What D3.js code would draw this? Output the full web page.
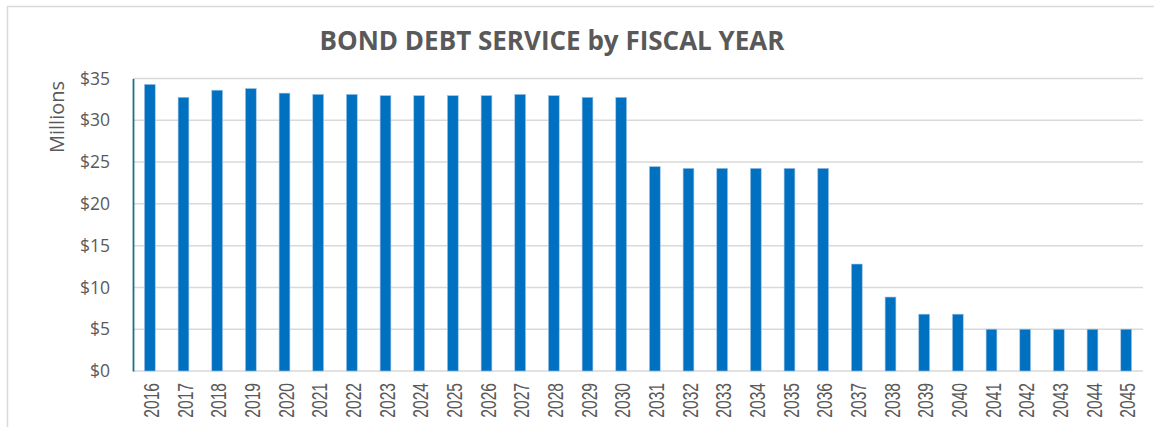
<!DOCTYPE html>
<html>
<head>
<meta charset="utf-8">
<script src="https://cdn.jsdelivr.net/npm/d3@7"></script>
<style>
  body { margin: 0; background: #fff; }
  svg { display: block; }
</style>
</head>
<body>
<div id="chart"></div>
<script>
// fiscal years and debt service (millions of dollars)
var years = ["2016", "2017", "2018", "2019", "2020", "2021", "2022", "2023", "2024", "2025",
             "2026", "2027", "2028", "2029", "2030", "2031", "2032", "2033", "2034", "2035",
             "2036", "2037", "2038", "2039", "2040", "2041", "2042", "2043", "2044", "2045"];
var debtService = [34.3, 32.75, 33.6, 33.8, 33.25, 33.1, 33.1, 32.95, 32.95, 32.95,
                   32.95, 33.1, 32.95, 32.75, 32.75, 24.45, 24.25, 24.25, 24.25, 24.25,
                   24.25, 12.8, 8.85, 6.8, 6.8, 5.0, 5.0, 5.0, 5.0, 5.0];
var yTicks = [0, 5, 10, 15, 20, 25, 30, 35];

var W = 1154, H = 427;
var margin = { top: 78.5, right: 11, bottom: 56, left: 133 };
var width = W - margin.left - margin.right;
var height = H - margin.top - margin.bottom;

var svg = d3.select("#chart").append("svg")
    .attr("width", W)
    .attr("height", H);

// outer frame of the chart area
svg.append("rect")
    .attr("x", 7.5).attr("y", 6.5)
    .attr("width", W + 20).attr("height", H + 20)
    .attr("fill", "none")
    .attr("stroke", "#d9d9d9")
    .attr("stroke-width", 1.5);

svg.append("text")
    .attr("x", 552)
    .attr("y", 50)
    .attr("text-anchor", "middle")
    .style("font-family", "'Open Sans', sans-serif")
    .style("font-weight", "bold")
    .style("font-size", "26px")
    .style("fill", "#595959")
    .text("BOND DEBT SERVICE by FISCAL YEAR");

var g = svg.append("g")
    .attr("transform", "translate(" + margin.left + "," + margin.top + ")");

var x = d3.scaleBand().domain(years).range([0, width]).paddingInner(0.68).paddingOuter(0.34);
var y = d3.scaleLinear().domain([0, 35]).range([height, 0]);

// gridlines
g.append("g")
    .selectAll("line")
    .data(yTicks)
    .enter().append("line")
    .attr("x1", 0).attr("x2", width)
    .attr("y1", function (d) { return y(d); })
    .attr("y2", function (d) { return y(d); })
    .attr("stroke", "#d9d9d9")
    .attr("stroke-width", 1.5);

// bars
g.selectAll(".bar")
    .data(debtService)
    .enter().append("rect")
    .attr("class", "bar")
    .attr("x", function (d, i) { return x(years[i]); })
    .attr("width", x.bandwidth())
    .attr("y", function (d) { return y(d); })
    .attr("height", function (d) { return height - y(d); })
    .attr("fill", "#0070c0")
    .attr("stroke", "#9dc3e6")
    .attr("stroke-width", 0.6);

// y axis
var yAxis = g.append("g")
    .call(d3.axisLeft(y).tickValues(yTicks).tickSize(0).tickPadding(23)
        .tickFormat(function (d) { return "$" + d; }));
yAxis.select(".domain")
    .attr("stroke", "#1f6e8c")
    .attr("stroke-width", 1.8);
yAxis.selectAll("text")
    .style("font-family", "'Open Sans', sans-serif")
    .style("font-size", "17.5px")
    .style("fill", "#595959");

// x axis, narrow rotated year labels
var xAxis = g.append("g")
    .attr("transform", "translate(0," + height + ")")
    .call(d3.axisBottom(x).tickSize(0));
xAxis.select(".domain").remove();
xAxis.selectAll("text")
    .attr("x", 0)
    .attr("y", 0)
    .attr("dy", 0)
    .attr("text-anchor", "end")
    .attr("transform", "translate(1,12) rotate(-90) scale(0.71,1) translate(0,8)")
    .style("font-family", "'Liberation Sans', sans-serif")
    .style("font-size", "22px")
    .style("fill", "#595959");

svg.append("text")
    .attr("transform", "translate(64,117) rotate(-90)")
    .attr("text-anchor", "middle")
    .style("font-family", "'Open Sans', sans-serif")
    .style("font-size", "20px")
    .style("fill", "#595959")
    .text("Millions");
</script>
</body>
</html>
